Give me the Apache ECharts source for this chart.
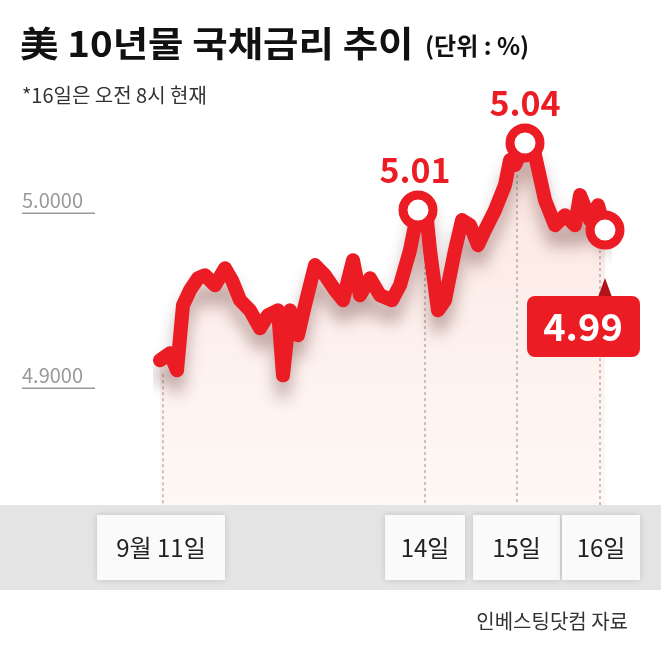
<!DOCTYPE html>
<html><head><meta charset="utf-8">
<script src="https://cdn.jsdelivr.net/npm/echarts@6/dist/echarts.min.js"></script>
<style>html,body{margin:0;padding:0;background:#fff}#c{width:661px;height:669px}</style>
</head><body><div id="c"></div>
<script>
// time index (arbitrary units) and yield values
const times = [0,10,17,23,30,38,45,55,65,72,80,90,100,108,118,123,130,138,145,155,165,175,183,193,200,210,220,232,240,250,258,265,270,278,285,295,302,310,318,325,335,345,350,355,365,375,385,395,405,415,420,430,438,445];
const values = [4.9086,4.9126,4.9029,4.9400,4.9486,4.9554,4.9571,4.9514,4.9611,4.9543,4.9429,4.9371,4.9269,4.9343,4.9371,4.9000,4.9371,4.9229,4.9400,4.9629,4.9571,4.9486,4.9429,4.9657,4.9457,4.9554,4.9457,4.9429,4.9514,4.9714,4.9943,5.0000,4.9714,4.9371,4.9429,4.9714,4.9886,4.9857,4.9743,4.9829,4.9943,5.0086,5.0229,5.0200,5.0326,5.0257,5.0000,4.9857,4.9914,4.9857,5.0029,4.9886,4.9971,4.9829];
const peakIdx = [30, 44, 53];
const peakLabels = ['5.01', '5.04', '4.99'];
const xTickLabels = ['9월 11일', '14일', '15일', '16일'];
const xTickTimes = [3, 265, 357, 440];
const yTicks = [4.9, 5.0];

const chart = echarts.init(document.getElementById('c'));
const red = '#ec1c24';
const font = '"Noto Sans CJK KR", "Noto Sans", sans-serif';

function build() {
  const g = [];
  // gray band
  g.push({ type: 'rect', z: 0, shape: { x: 0, y: 505, width: 661, height: 85 }, style: { fill: '#e4e4e4' } });
  // dashed verticals
  xTickTimes.forEach((t, i) => {
    const p = chart.convertToPixel({ gridIndex: 0 }, [t, 4.9]);
    const v = i === 0 ? values[0] : values[peakIdx[i - 1]];
    const top = chart.convertToPixel({ gridIndex: 0 }, [t, v])[1];
    g.push({ type: 'line', z: 1, shape: { x1: p[0], y1: top + 14, x2: p[0], y2: 505 }, style: { stroke: '#aaa', lineWidth: 1.5, lineDash: [3, 3] } });
  });
  // tick label boxes
  const boxes = [[97, 128], [385, 80], [473, 87], [562, 78]];
  xTickLabels.forEach((s, i) => {
    g.push({ type: 'rect', z: 2, shape: { x: boxes[i][0], y: 515, width: boxes[i][1], height: 65 },
      style: { fill: '#fafafa', shadowBlur: 6, shadowColor: 'rgba(0,0,0,0.15)' } });
    g.push({ type: 'text', z: 3, style: { text: s, x: boxes[i][0] + boxes[i][1] / 2, y: 548, align: 'center', verticalAlign: 'middle', font: '24px ' + font, fill: '#222' } });
  });
  // y ticks
  yTicks.forEach(v => {
    const y = chart.convertToPixel({ gridIndex: 0 }, [0, v])[1];
    g.push({ type: 'text', style: { text: v.toFixed(4), x: 22, y: y, verticalAlign: 'middle', font: '20px ' + font, fill: '#999' } });
    g.push({ type: 'line', shape: { x1: 22, y1: y + 13, x2: 95, y2: y + 13 }, style: { stroke: '#999', lineWidth: 1.5 } });
  });
  // peak labels
  [0, 1].forEach(i => {
    const p = chart.convertToPixel({ gridIndex: 0 }, [times[peakIdx[i]], values[peakIdx[i]]]);
    g.push({ type: 'text', z: 10, style: { text: peakLabels[i], x: p[0] + (i === 0 ? -3 : 0), y: p[1] - 40, align: 'center', verticalAlign: 'middle', font: 'bold 34px ' + font, fill: red } });
  });
  const e = chart.convertToPixel({ gridIndex: 0 }, [times[peakIdx[2]], values[peakIdx[2]]]);
  g.push({ type: 'polygon', z: 10, shape: { points: [[e[0] - 7, 297], [e[0] + 7, 297], [e[0], 278]] }, style: { fill: '#b0141a' } });
  g.push({ type: 'rect', z: 10, shape: { x: 527, y: 296, width: 113, height: 61, r: 8 }, style: { fill: red } });
  g.push({ type: 'text', z: 11, style: { text: peakLabels[2], x: 583, y: 327, align: 'center', verticalAlign: 'middle', font: 'bold 38px ' + font, fill: '#fff' } });
  // titles
  g.push({ type: 'text', x: 20, y: 44, scaleX: 1.1, style: { text: '美 10년물 국채금리 추이', x: 0, y: 0, verticalAlign: 'middle', font: 'bold 35px ' + font, fill: '#111' } });
  g.push({ type: 'text', style: { text: '(단위 : %)', x: 425, y: 46, verticalAlign: 'middle', font: 'bold 24px ' + font, fill: '#111' } });
  g.push({ type: 'text', style: { text: '*16일은 오전 8시 현재', x: 22, y: 95, verticalAlign: 'middle', font: '20px ' + font, fill: '#333' } });
  g.push({ type: 'text', style: { text: '인베스팅닷컴 자료', x: 628, y: 621, align: 'right', verticalAlign: 'middle', font: '20px ' + font, fill: '#333' } });
  chart.setOption({ graphic: g });
}

chart.setOption({
  animation: false,
  grid: { left: 160, width: 445, top: 95, height: 410 },
  xAxis: { type: 'value', min: 0, max: 445, show: false },
  yAxis: { type: 'value', min: 4.826, max: 5.06, show: false },
  series: [
    {
      type: 'line', z: 5, symbol: 'none',
      data: times.map((t, i) => [t, values[i]]),
      lineStyle: { color: red, width: 14, join: 'round', cap: 'round', shadowBlur: 16, shadowColor: 'rgba(80,30,30,0.35)', shadowOffsetY: 16 },
      areaStyle: { origin: 'start', color: { type: 'linear', x: 0, y: 0, x2: 0, y2: 1, colorStops: [{ offset: 0, color: 'rgba(240,150,130,0.35)' }, { offset: 1, color: 'rgba(250,215,200,0.25)' }] } }
    },
    {
      type: 'scatter', z: 8, symbolSize: 30,
      data: peakIdx.map(i => [times[i], values[i]]),
      itemStyle: { color: '#fff', borderColor: red, borderWidth: 9, opacity: 1 }
    }
  ]
});
build();
</script></body></html>
